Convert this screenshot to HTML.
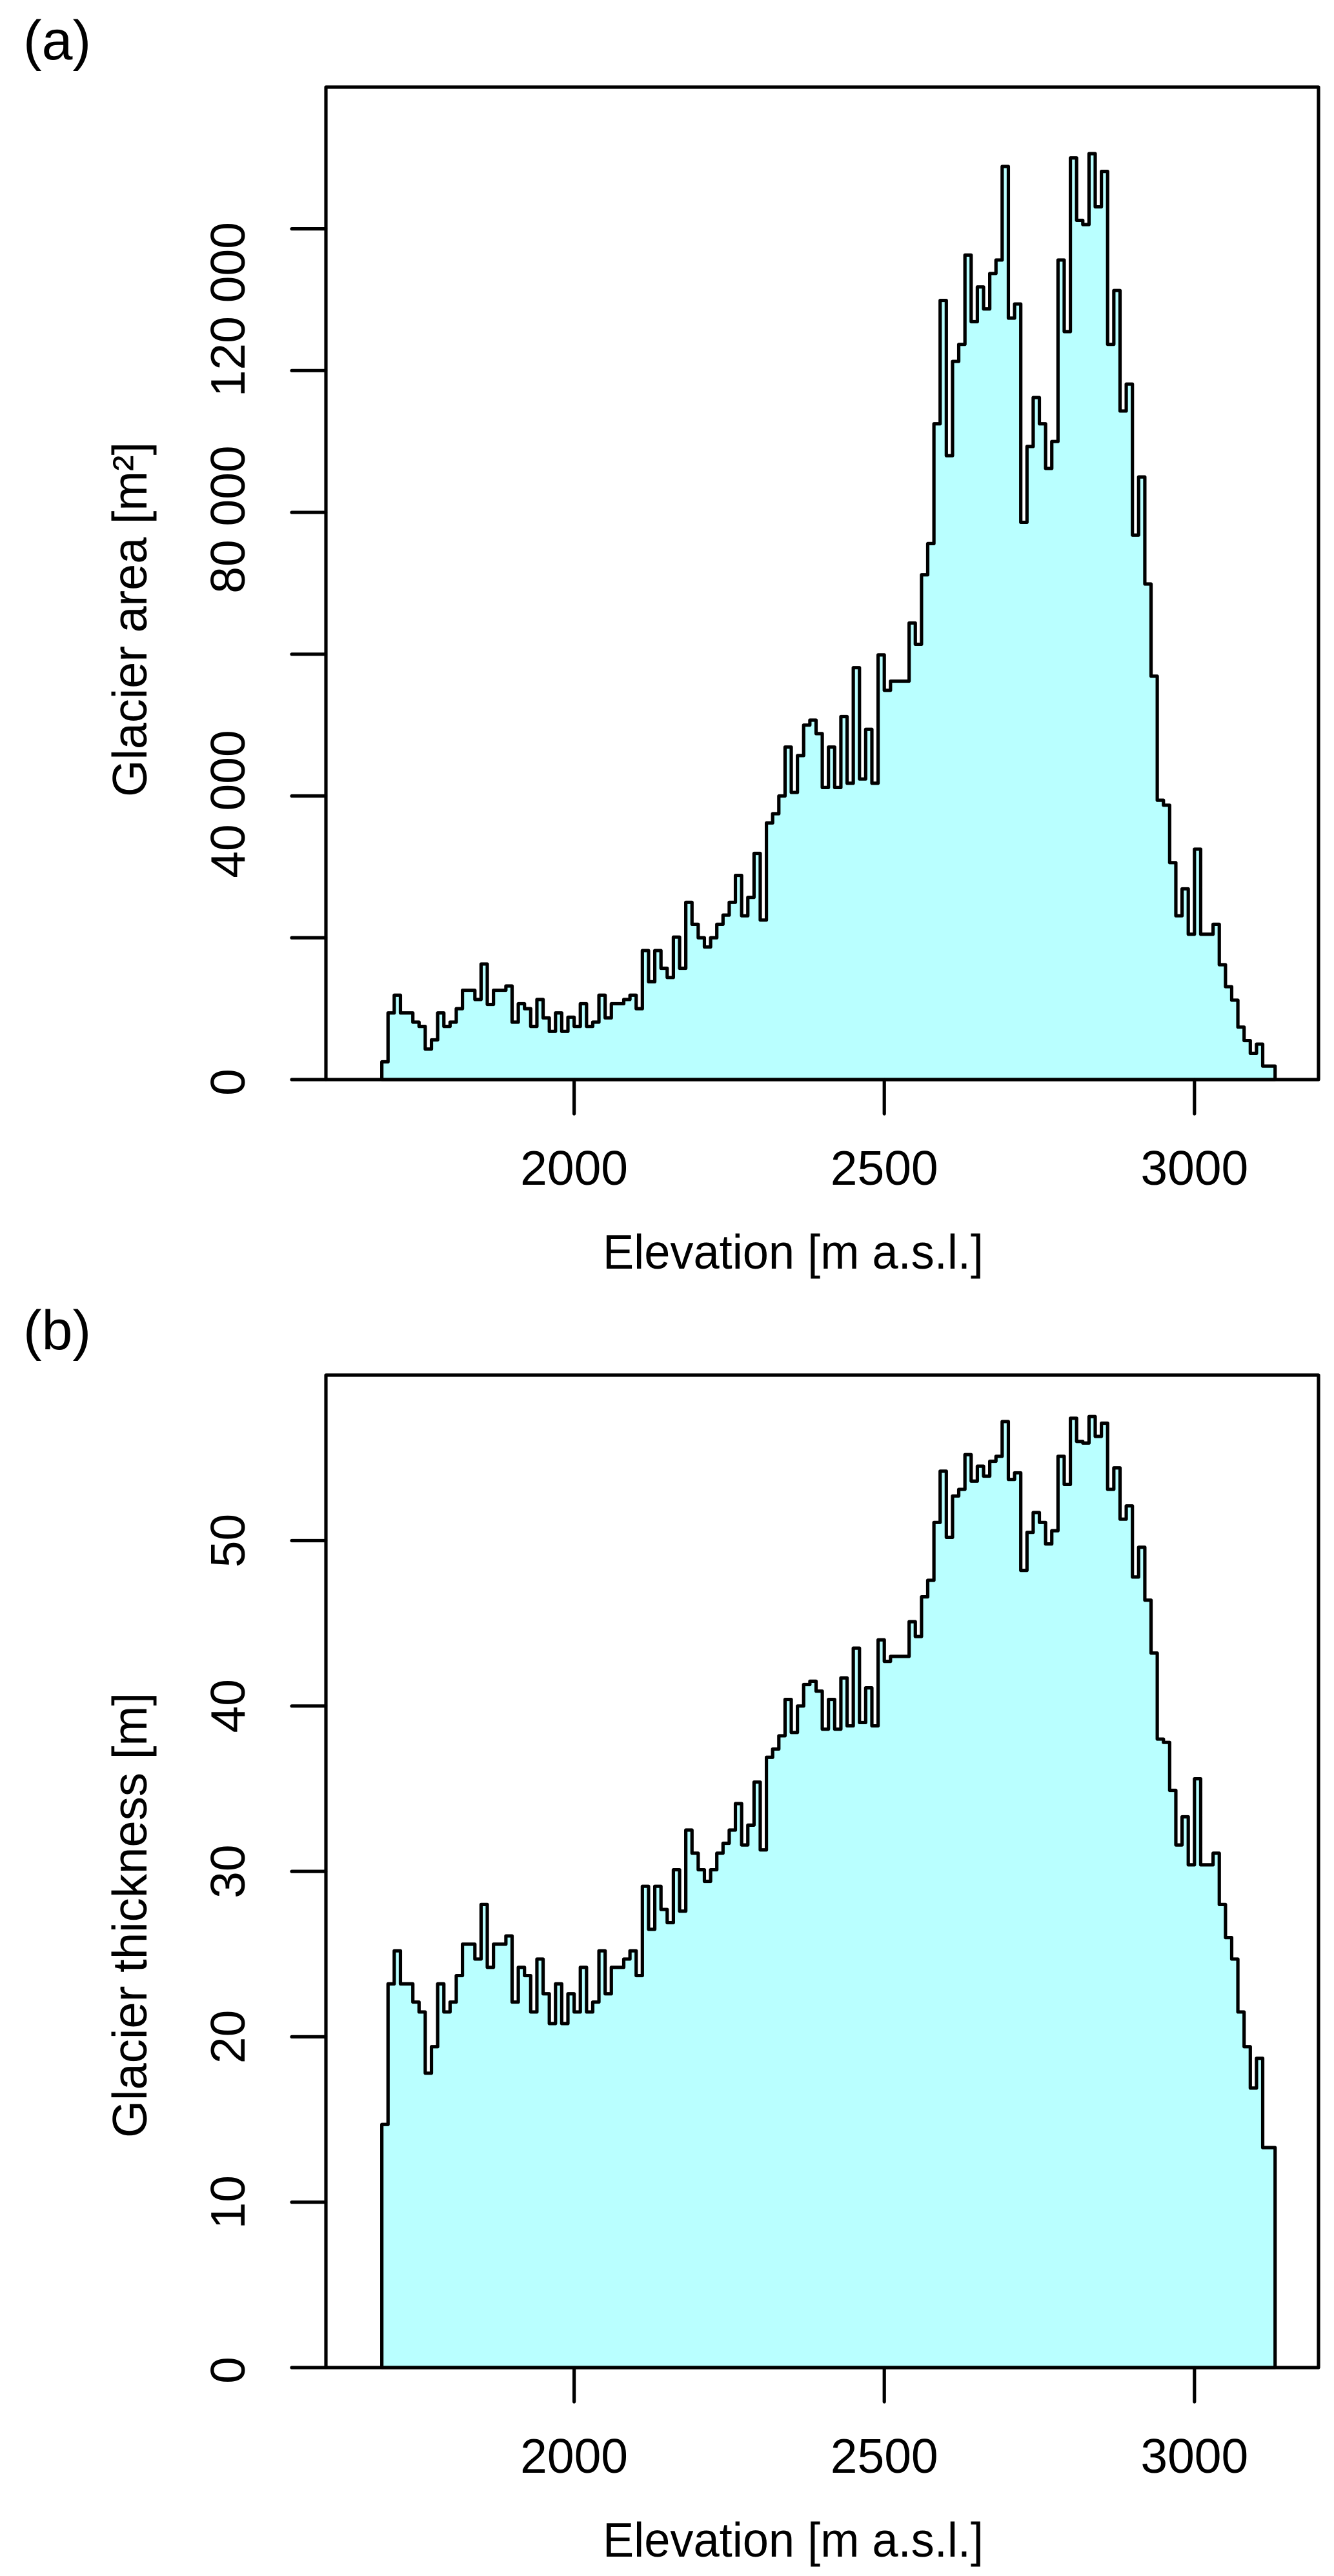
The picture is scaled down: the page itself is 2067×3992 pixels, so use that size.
<!DOCTYPE html>
<html lang="en">
<head>
<meta charset="utf-8">
<title>Glacier area and thickness by elevation</title>
<style>
  html, body { margin: 0; padding: 0; background: #fff; }
  svg { display: block; }
  text { font-family: "Liberation Sans", Arial, sans-serif; font-size: 75px; fill: #000; }
</style>
</head>
<body>
<svg id="figure" xmlns="http://www.w3.org/2000/svg" width="2067" height="3992" viewBox="0 0 2067 3992">
  <rect x="0" y="0" width="2067" height="3992" fill="#fff"/>
  <g id="panel-a">
    <text x="36" y="92" style="font-size:86px">(a)</text>
    <text x="227" y="960" text-anchor="middle" transform="rotate(-90 227 960)" textLength="550" lengthAdjust="spacingAndGlyphs">Glacier area [m²]</text>
    <text x="1229" y="1966" text-anchor="middle" textLength="590" lengthAdjust="spacingAndGlyphs">Elevation [m a.s.l.]</text>
  </g>
  <g id="panel-b">
    <text x="36" y="2091" style="font-size:86px">(b)</text>
    <text x="227" y="2968" text-anchor="middle" transform="rotate(-90 227 2968)" textLength="690" lengthAdjust="spacingAndGlyphs">Glacier thickness [m]</text>
    <text x="1229" y="3962" text-anchor="middle" textLength="590" lengthAdjust="spacingAndGlyphs">Elevation [m a.s.l.]</text>
  </g>
</svg>
<script>
// Elevation bands (m a.s.l.)
const binStart = 1690;
const binWidth = 10;

// Panel (a): glacier area per 10 m elevation band [m2]
const areaValues = [
  2500, 9400, 11900, 9400, 9400, 8100, 7500, 4300, 5600, 9400,
  7500, 8100, 10000, 12600, 12600, 11300, 16300, 10600, 12600, 12600,
  13200, 8100, 10700, 10000, 7500, 11300, 8700, 6800, 9400, 6800,
  8800, 7500, 10700, 7500, 8100, 11900, 8700, 10700, 10700, 11300,
  11900, 10000, 18200, 13800, 18200, 15700, 14400, 20100, 15700, 25000,
  21900, 20000, 18700, 20000, 21900, 23200, 25000, 28800, 23100, 25700,
  31900, 22500, 36200, 37500, 40000, 46900, 40500, 45700, 50000, 50700,
  48800, 41200, 46900, 41200, 51200, 41800, 58100, 42400, 49400, 41800,
  59900, 54900, 56200, 56200, 56200, 64400, 61400, 71200, 75600, 92500,
  109900, 88000, 101300, 103700, 116300, 106900, 111800, 108700, 113700, 115600,
  128800, 107400, 109400, 78600, 89300, 96200, 92500, 86200, 90000, 115600,
  105500, 130000, 121200, 120600, 130600, 123100, 128100, 103700, 111300, 94300,
  98100, 76800, 85000, 69900, 56900, 39400, 38700, 30600, 23100, 26900,
  20500, 32500, 20500, 20500, 21900, 16200, 13100, 11200, 7400, 5500,
  3700, 5000, 1900, 1900
];

// Panel (b): mean glacier thickness per elevation band [m]
const thicknessValues = [
  14.7, 23.2, 25.2, 23.2, 23.2, 22.1, 21.5, 17.8, 19.4, 23.2,
  21.5, 22.1, 23.7, 25.6, 25.6, 24.7, 28.0, 24.2, 25.6, 25.6,
  26.1, 22.1, 24.2, 23.7, 21.5, 24.7, 22.6, 20.8, 23.2, 20.8,
  22.6, 21.5, 24.2, 21.5, 22.1, 25.2, 22.6, 24.2, 24.2, 24.7,
  25.2, 23.7, 29.1, 26.5, 29.1, 27.7, 26.9, 30.1, 27.6, 32.5,
  31.1, 30.1, 29.4, 30.1, 31.1, 31.7, 32.5, 34.1, 31.6, 32.8,
  35.4, 31.3, 36.9, 37.4, 38.2, 40.4, 38.4, 40.0, 41.3, 41.5,
  40.9, 38.6, 40.4, 38.6, 41.7, 38.8, 43.5, 39.0, 41.1, 38.8,
  44.0, 42.7, 43.0, 43.0, 43.0, 45.1, 44.2, 46.6, 47.6, 51.1,
  54.2, 50.2, 52.7, 53.1, 55.2, 53.6, 54.5, 53.9, 54.8, 55.1,
  57.2, 53.7, 54.1, 48.2, 50.5, 51.7, 51.1, 49.8, 50.6, 55.1,
  53.4, 57.4, 56.0, 55.9, 57.5, 56.3, 57.1, 53.1, 54.4, 51.3,
  52.1, 47.8, 49.6, 46.4, 43.2, 38.0, 37.8, 34.9, 31.6, 33.3,
  30.4, 35.6, 30.4, 30.4, 31.1, 28.0, 26.0, 24.7, 21.5, 19.4,
  16.9, 18.7, 13.3, 13.3
];

// Axis ticks and labels
const xTicks = [2000, 2500, 3000];
const xTickLabels = ["2000", "2500", "3000"];
const areaTicks = [0, 20000, 40000, 60000, 80000, 100000, 120000];
const areaTickLabels = ["0", "", "40 000", "", "80 000", "", "120 000"];
const thicknessTicks = [0, 10, 20, 30, 40, 50];
const thicknessTickLabels = ["0", "10", "20", "30", "40", "50"];

const SVG_NS = "http://www.w3.org/2000/svg";
const FILL_COLOR = "#b9ffff";
const LINE_WIDTH = 5.2;

function xScale(elevation) {
  return 889.6 + (elevation - 2000) * (1850.8 - 889.6) / 1000;
}

function make(parent, tag, attrs) {
  const el = document.createElementNS(SVG_NS, tag);
  for (const key in attrs) el.setAttribute(key, attrs[key]);
  parent.appendChild(el);
  return el;
}

function drawPanel(parent, prefix, layout, values, yTicks, yLabels) {
  const yScale = function (v) { return layout.bottom - v * layout.pixelsPerUnit; };

  // Histogram silhouette
  let d = "M" + xScale(binStart).toFixed(2) + "," + yScale(0).toFixed(2);
  values.forEach(function (value, i) {
    const x0 = xScale(binStart + i * binWidth).toFixed(2);
    const x1 = xScale(binStart + (i + 1) * binWidth).toFixed(2);
    const y = yScale(value).toFixed(2);
    d += "L" + x0 + "," + y + "L" + x1 + "," + y;
  });
  d += "L" + xScale(binStart + values.length * binWidth).toFixed(2) + "," + yScale(0).toFixed(2) + "Z";
  const hist = make(parent, "path", { d: d, fill: FILL_COLOR, stroke: "#000", "stroke-width": LINE_WIDTH, "stroke-linejoin": "round" });
  
  

  // Plot frame
  const frame = make(parent, "rect", { x: 505, y: layout.top, width: 2043 - 505, height: layout.bottom - layout.top, fill: "none", stroke: "#000", "stroke-width": LINE_WIDTH, "stroke-linejoin": "round" });
  
  

  // X axis
  xTicks.forEach(function (tick, i) {
    const px = xScale(tick);
    const line = make(parent, "line", { x1: px, x2: px, y1: layout.bottom, y2: layout.bottom + 53, stroke: "#000", "stroke-width": LINE_WIDTH, "stroke-linecap": "round" });
    
    
    const label = make(parent, "text", { x: px, y: layout.bottom + 163, "text-anchor": "middle" });
    label.textContent = xTickLabels[i];
    
    
  });

  // Y axis
  yTicks.forEach(function (tick, i) {
    const py = yScale(tick);
    const line = make(parent, "line", { x1: 505, x2: 452, y1: py, y2: py, stroke: "#000", "stroke-width": LINE_WIDTH, "stroke-linecap": "round" });
    
    
    if (yLabels[i]) {
      const cy = py + layout.labelShift(tick);
      const label = make(parent, "text", { x: 379, y: cy, "text-anchor": "middle", transform: "rotate(-90 379 " + cy + ")" });
      label.textContent = yLabels[i];
      
      
    }
  });
}

drawPanel(document.getElementById("panel-a"), "area", {
  top: 135,
  bottom: 1673,
  pixelsPerUnit: (1673 - 354.6) / 120000,
  labelShift: function (tick) {
    if (tick === 120000) return 125;
    if (tick === 80000) return 11;
    if (tick === 40000) return 12.5;
    return 4;
  }
}, areaValues, areaTicks, areaTickLabels);

drawPanel(document.getElementById("panel-b"), "thickness", {
  top: 2131,
  bottom: 3669,
  pixelsPerUnit: 25.63,
  labelShift: function (tick) {
    return tick === 0 ? 4 : 0;
  }
}, thicknessValues, thicknessTicks, thicknessTickLabels);
</script>
</body>
</html>
